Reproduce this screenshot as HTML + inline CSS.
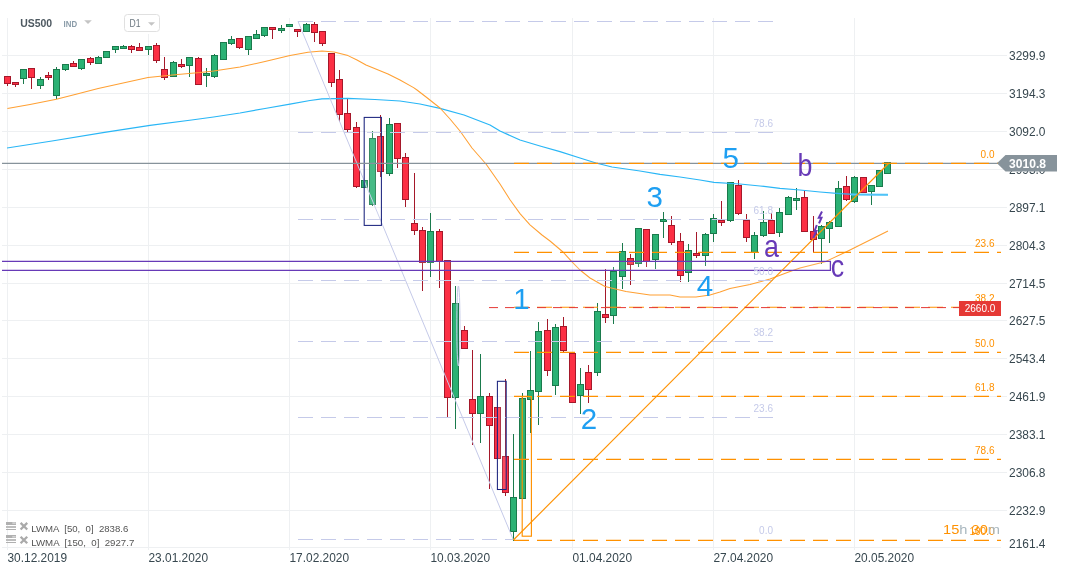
<!DOCTYPE html>
<html><head><meta charset="utf-8"><title>US500 D1</title>
<style>html,body{margin:0;padding:0;background:#fff}body{width:1069px;height:574px;overflow:hidden}svg{display:block}</style>
</head><body>
<svg width="1069" height="574" viewBox="0 0 1069 574" font-family="'Liberation Sans', Arial, sans-serif">
<rect width="1069" height="574" fill="#fff"/>
<g stroke="#eef0f2" stroke-width="1" shape-rendering="crispEdges">
<line x1="2" y1="55.5" x2="1007" y2="55.5"/>
<line x1="2" y1="93.5" x2="1007" y2="93.5"/>
<line x1="2" y1="131.5" x2="1007" y2="131.5"/>
<line x1="2" y1="169.5" x2="1007" y2="169.5"/>
<line x1="2" y1="207.5" x2="1007" y2="207.5"/>
<line x1="2" y1="245.5" x2="1007" y2="245.5"/>
<line x1="2" y1="283.5" x2="1007" y2="283.5"/>
<line x1="2" y1="320.5" x2="1007" y2="320.5"/>
<line x1="2" y1="358.5" x2="1007" y2="358.5"/>
<line x1="2" y1="396.5" x2="1007" y2="396.5"/>
<line x1="2" y1="434.5" x2="1007" y2="434.5"/>
<line x1="2" y1="472.5" x2="1007" y2="472.5"/>
<line x1="2" y1="510.5" x2="1007" y2="510.5"/>
<line x1="7.5" y1="18" x2="7.5" y2="550"/>
<line x1="148.5" y1="34" x2="148.5" y2="550"/>
<line x1="289.5" y1="18" x2="289.5" y2="550"/>
<line x1="430.5" y1="18" x2="430.5" y2="550"/>
<line x1="572.5" y1="18" x2="572.5" y2="550"/>
<line x1="713.5" y1="18" x2="713.5" y2="550"/>
<line x1="854.5" y1="18" x2="854.5" y2="550"/>
<line x1="2" y1="547.5" x2="1001" y2="547.5"/>
</g>
<g shape-rendering="crispEdges">
<line x1="7.5" y1="76" x2="7.5" y2="86" stroke="#a5182a" stroke-width="1"/>
<rect x="4.5" y="76.5" width="6" height="7" fill="#fc2f44" stroke="#a5182a" stroke-width="1"/>
<line x1="15.5" y1="82" x2="15.5" y2="87" stroke="#a5182a" stroke-width="1"/>
<rect x="12.5" y="82.5" width="6" height="2" fill="#fc2f44" stroke="#a5182a" stroke-width="1"/>
<line x1="23.5" y1="69" x2="23.5" y2="84" stroke="#1a7a4c" stroke-width="1"/>
<rect x="20.5" y="69.5" width="6" height="9" fill="#2bb174" stroke="#1a7a4c" stroke-width="1"/>
<line x1="31.5" y1="68" x2="31.5" y2="89" stroke="#a5182a" stroke-width="1"/>
<rect x="28.5" y="68.5" width="6" height="9" fill="#fc2f44" stroke="#a5182a" stroke-width="1"/>
<line x1="40.5" y1="77" x2="40.5" y2="89" stroke="#1a7a4c" stroke-width="1"/>
<rect x="37.5" y="79.5" width="6" height="6" fill="#2bb174" stroke="#1a7a4c" stroke-width="1"/>
<line x1="48.5" y1="72" x2="48.5" y2="80" stroke="#a5182a" stroke-width="1"/>
<rect x="45.5" y="75.5" width="6" height="2" fill="#fc2f44" stroke="#a5182a" stroke-width="1"/>
<line x1="56.5" y1="67" x2="56.5" y2="99" stroke="#1a7a4c" stroke-width="1"/>
<rect x="53.5" y="69.5" width="6" height="26" fill="#2bb174" stroke="#1a7a4c" stroke-width="1"/>
<line x1="65.5" y1="64" x2="65.5" y2="71" stroke="#1a7a4c" stroke-width="1"/>
<rect x="62.5" y="64.5" width="6" height="5" fill="#2bb174" stroke="#1a7a4c" stroke-width="1"/>
<line x1="73.5" y1="61" x2="73.5" y2="67" stroke="#a5182a" stroke-width="1"/>
<rect x="70.5" y="63.5" width="6" height="3" fill="#fc2f44" stroke="#a5182a" stroke-width="1"/>
<line x1="81.5" y1="59" x2="81.5" y2="70" stroke="#1a7a4c" stroke-width="1"/>
<rect x="78.5" y="59.5" width="6" height="9" fill="#2bb174" stroke="#1a7a4c" stroke-width="1"/>
<line x1="90.5" y1="57" x2="90.5" y2="65" stroke="#a5182a" stroke-width="1"/>
<rect x="87.5" y="58.5" width="6" height="4" fill="#fc2f44" stroke="#a5182a" stroke-width="1"/>
<line x1="98.5" y1="56" x2="98.5" y2="64" stroke="#1a7a4c" stroke-width="1"/>
<rect x="95.5" y="57.5" width="6" height="6" fill="#2bb174" stroke="#1a7a4c" stroke-width="1"/>
<line x1="106.5" y1="51" x2="106.5" y2="58" stroke="#1a7a4c" stroke-width="1"/>
<rect x="103.5" y="51.5" width="6" height="6" fill="#2bb174" stroke="#1a7a4c" stroke-width="1"/>
<line x1="115.5" y1="46" x2="115.5" y2="53" stroke="#1a7a4c" stroke-width="1"/>
<rect x="112.5" y="46.5" width="6" height="3" fill="#2bb174" stroke="#1a7a4c" stroke-width="1"/>
<line x1="123.5" y1="45" x2="123.5" y2="49" stroke="#1a7a4c" stroke-width="1"/>
<rect x="120.5" y="46.5" width="6" height="2" fill="#2bb174" stroke="#1a7a4c" stroke-width="1"/>
<line x1="131.5" y1="45" x2="131.5" y2="53" stroke="#a5182a" stroke-width="1"/>
<rect x="128.5" y="46.5" width="6" height="3" fill="#fc2f44" stroke="#a5182a" stroke-width="1"/>
<line x1="139.5" y1="43" x2="139.5" y2="51" stroke="#a5182a" stroke-width="1"/>
<rect x="136.5" y="47.5" width="6" height="3" fill="#fc2f44" stroke="#a5182a" stroke-width="1"/>
<line x1="148.5" y1="46" x2="148.5" y2="55" stroke="#1a7a4c" stroke-width="1"/>
<rect x="145.5" y="46.5" width="6" height="3" fill="#2bb174" stroke="#1a7a4c" stroke-width="1"/>
<line x1="156.5" y1="43" x2="156.5" y2="63" stroke="#a5182a" stroke-width="1"/>
<rect x="153.5" y="45.5" width="6" height="15" fill="#fc2f44" stroke="#a5182a" stroke-width="1"/>
<line x1="164.5" y1="57" x2="164.5" y2="80" stroke="#a5182a" stroke-width="1"/>
<rect x="161.5" y="69.5" width="6" height="8" fill="#fc2f44" stroke="#a5182a" stroke-width="1"/>
<line x1="173.5" y1="61" x2="173.5" y2="77" stroke="#1a7a4c" stroke-width="1"/>
<rect x="170.5" y="62.5" width="6" height="14" fill="#2bb174" stroke="#1a7a4c" stroke-width="1"/>
<line x1="181.5" y1="59" x2="181.5" y2="68" stroke="#a5182a" stroke-width="1"/>
<rect x="178.5" y="64.5" width="6" height="2" fill="#fc2f44" stroke="#a5182a" stroke-width="1"/>
<line x1="189.5" y1="57" x2="189.5" y2="77" stroke="#1a7a4c" stroke-width="1"/>
<rect x="186.5" y="57.5" width="6" height="8" fill="#2bb174" stroke="#1a7a4c" stroke-width="1"/>
<line x1="198.5" y1="57" x2="198.5" y2="85" stroke="#a5182a" stroke-width="1"/>
<rect x="195.5" y="58.5" width="6" height="26" fill="#fc2f44" stroke="#a5182a" stroke-width="1"/>
<line x1="206.5" y1="68" x2="206.5" y2="87" stroke="#1a7a4c" stroke-width="1"/>
<rect x="203.5" y="73.5" width="6" height="2" fill="#2bb174" stroke="#1a7a4c" stroke-width="1"/>
<line x1="214.5" y1="54" x2="214.5" y2="78" stroke="#1a7a4c" stroke-width="1"/>
<rect x="211.5" y="55.5" width="6" height="21" fill="#2bb174" stroke="#1a7a4c" stroke-width="1"/>
<line x1="223.5" y1="42" x2="223.5" y2="60" stroke="#1a7a4c" stroke-width="1"/>
<rect x="220.5" y="42.5" width="6" height="17" fill="#2bb174" stroke="#1a7a4c" stroke-width="1"/>
<line x1="231.5" y1="36" x2="231.5" y2="45" stroke="#1a7a4c" stroke-width="1"/>
<rect x="228.5" y="39.5" width="6" height="4" fill="#2bb174" stroke="#1a7a4c" stroke-width="1"/>
<line x1="239.5" y1="38" x2="239.5" y2="49" stroke="#a5182a" stroke-width="1"/>
<rect x="236.5" y="38.5" width="6" height="9" fill="#fc2f44" stroke="#a5182a" stroke-width="1"/>
<line x1="248.5" y1="36" x2="248.5" y2="55" stroke="#1a7a4c" stroke-width="1"/>
<rect x="245.5" y="36.5" width="6" height="13" fill="#2bb174" stroke="#1a7a4c" stroke-width="1"/>
<line x1="256.5" y1="30" x2="256.5" y2="39" stroke="#1a7a4c" stroke-width="1"/>
<rect x="253.5" y="34.5" width="6" height="4" fill="#2bb174" stroke="#1a7a4c" stroke-width="1"/>
<line x1="264.5" y1="27" x2="264.5" y2="37" stroke="#1a7a4c" stroke-width="1"/>
<rect x="261.5" y="27.5" width="6" height="8" fill="#2bb174" stroke="#1a7a4c" stroke-width="1"/>
<line x1="272.5" y1="27" x2="272.5" y2="39" stroke="#a5182a" stroke-width="1"/>
<rect x="269.5" y="27.5" width="6" height="2" fill="#fc2f44" stroke="#a5182a" stroke-width="1"/>
<line x1="281.5" y1="25" x2="281.5" y2="33" stroke="#1a7a4c" stroke-width="1"/>
<rect x="278.5" y="28.5" width="6" height="2" fill="#2bb174" stroke="#1a7a4c" stroke-width="1"/>
<line x1="289.5" y1="24" x2="289.5" y2="27" stroke="#1a7a4c" stroke-width="1"/>
<rect x="286.5" y="24.5" width="6" height="2" fill="#2bb174" stroke="#1a7a4c" stroke-width="1"/>
<line x1="297.5" y1="29" x2="297.5" y2="37" stroke="#a5182a" stroke-width="1"/>
<rect x="294.5" y="29.5" width="6" height="2" fill="#fc2f44" stroke="#a5182a" stroke-width="1"/>
<line x1="306.5" y1="23" x2="306.5" y2="32" stroke="#1a7a4c" stroke-width="1"/>
<rect x="303.5" y="24.5" width="6" height="7" fill="#2bb174" stroke="#1a7a4c" stroke-width="1"/>
<line x1="314.5" y1="22" x2="314.5" y2="42" stroke="#a5182a" stroke-width="1"/>
<rect x="311.5" y="24.5" width="6" height="8" fill="#fc2f44" stroke="#a5182a" stroke-width="1"/>
<line x1="322.5" y1="31" x2="322.5" y2="46" stroke="#a5182a" stroke-width="1"/>
<rect x="319.5" y="31.5" width="6" height="12" fill="#fc2f44" stroke="#a5182a" stroke-width="1"/>
<line x1="331.5" y1="53" x2="331.5" y2="87" stroke="#a5182a" stroke-width="1"/>
<rect x="328.5" y="53.5" width="6" height="29" fill="#fc2f44" stroke="#a5182a" stroke-width="1"/>
<line x1="339.5" y1="70" x2="339.5" y2="122" stroke="#a5182a" stroke-width="1"/>
<rect x="336.5" y="79.5" width="6" height="35" fill="#fc2f44" stroke="#a5182a" stroke-width="1"/>
<line x1="347.5" y1="98" x2="347.5" y2="132" stroke="#a5182a" stroke-width="1"/>
<rect x="344.5" y="113.5" width="6" height="16" fill="#fc2f44" stroke="#a5182a" stroke-width="1"/>
<line x1="356.5" y1="122" x2="356.5" y2="188" stroke="#a5182a" stroke-width="1"/>
<rect x="353.5" y="127.5" width="6" height="59" fill="#fc2f44" stroke="#a5182a" stroke-width="1"/>
<line x1="364.5" y1="180" x2="364.5" y2="188" stroke="#1a7a4c" stroke-width="1"/>
<rect x="361.5" y="180.5" width="6" height="7" fill="#2bb174" stroke="#1a7a4c" stroke-width="1"/>
<line x1="372.5" y1="131" x2="372.5" y2="206" stroke="#1a7a4c" stroke-width="1"/>
<rect x="369.5" y="138.5" width="6" height="66" fill="#2bb174" stroke="#1a7a4c" stroke-width="1"/>
<line x1="380.5" y1="115" x2="380.5" y2="177" stroke="#a5182a" stroke-width="1"/>
<rect x="377.5" y="136.5" width="6" height="35" fill="#fc2f44" stroke="#a5182a" stroke-width="1"/>
<line x1="389.5" y1="118" x2="389.5" y2="176" stroke="#1a7a4c" stroke-width="1"/>
<rect x="386.5" y="124.5" width="6" height="49" fill="#2bb174" stroke="#1a7a4c" stroke-width="1"/>
<line x1="397.5" y1="123" x2="397.5" y2="168" stroke="#a5182a" stroke-width="1"/>
<rect x="394.5" y="123.5" width="6" height="35" fill="#fc2f44" stroke="#a5182a" stroke-width="1"/>
<line x1="405.5" y1="153" x2="405.5" y2="207" stroke="#a5182a" stroke-width="1"/>
<rect x="402.5" y="157.5" width="6" height="42" fill="#fc2f44" stroke="#a5182a" stroke-width="1"/>
<line x1="414.5" y1="173" x2="414.5" y2="235" stroke="#a5182a" stroke-width="1"/>
<rect x="411.5" y="223.5" width="6" height="7" fill="#fc2f44" stroke="#a5182a" stroke-width="1"/>
<line x1="422.5" y1="227" x2="422.5" y2="291" stroke="#a5182a" stroke-width="1"/>
<rect x="419.5" y="230.5" width="6" height="32" fill="#fc2f44" stroke="#a5182a" stroke-width="1"/>
<line x1="430.5" y1="213" x2="430.5" y2="277" stroke="#1a7a4c" stroke-width="1"/>
<rect x="427.5" y="231.5" width="6" height="31" fill="#2bb174" stroke="#1a7a4c" stroke-width="1"/>
<line x1="439.5" y1="229" x2="439.5" y2="288" stroke="#a5182a" stroke-width="1"/>
<rect x="436.5" y="231.5" width="6" height="30" fill="#fc2f44" stroke="#a5182a" stroke-width="1"/>
<line x1="447.5" y1="260" x2="447.5" y2="418" stroke="#a5182a" stroke-width="1"/>
<rect x="444.5" y="260.5" width="6" height="137" fill="#fc2f44" stroke="#a5182a" stroke-width="1"/>
<line x1="455.5" y1="286" x2="455.5" y2="429" stroke="#1a7a4c" stroke-width="1"/>
<rect x="452.5" y="303.5" width="6" height="94" fill="#2bb174" stroke="#1a7a4c" stroke-width="1"/>
<line x1="464.5" y1="326" x2="464.5" y2="349" stroke="#a5182a" stroke-width="1"/>
<rect x="461.5" y="330.5" width="6" height="18" fill="#fc2f44" stroke="#a5182a" stroke-width="1"/>
<line x1="472.5" y1="350" x2="472.5" y2="445" stroke="#a5182a" stroke-width="1"/>
<rect x="469.5" y="399.5" width="6" height="14" fill="#fc2f44" stroke="#a5182a" stroke-width="1"/>
<line x1="480.5" y1="354" x2="480.5" y2="443" stroke="#1a7a4c" stroke-width="1"/>
<rect x="477.5" y="396.5" width="6" height="17" fill="#2bb174" stroke="#1a7a4c" stroke-width="1"/>
<line x1="489.5" y1="393" x2="489.5" y2="489" stroke="#a5182a" stroke-width="1"/>
<rect x="486.5" y="396.5" width="6" height="29" fill="#fc2f44" stroke="#a5182a" stroke-width="1"/>
<line x1="497.5" y1="407" x2="497.5" y2="459" stroke="#a5182a" stroke-width="1"/>
<rect x="494.5" y="407.5" width="6" height="51" fill="#fc2f44" stroke="#a5182a" stroke-width="1"/>
<line x1="505.5" y1="379" x2="505.5" y2="496" stroke="#a5182a" stroke-width="1"/>
<rect x="502.5" y="456.5" width="6" height="36" fill="#fc2f44" stroke="#a5182a" stroke-width="1"/>
<line x1="513.5" y1="434" x2="513.5" y2="541" stroke="#1a7a4c" stroke-width="1"/>
<rect x="510.5" y="497.5" width="6" height="34" fill="#2bb174" stroke="#1a7a4c" stroke-width="1"/>
<line x1="522.5" y1="393" x2="522.5" y2="499" stroke="#1a7a4c" stroke-width="1"/>
<rect x="519.5" y="398.5" width="6" height="100" fill="#2bb174" stroke="#1a7a4c" stroke-width="1"/>
<line x1="530.5" y1="351" x2="530.5" y2="433" stroke="#1a7a4c" stroke-width="1"/>
<rect x="527.5" y="390.5" width="6" height="9" fill="#2bb174" stroke="#1a7a4c" stroke-width="1"/>
<line x1="538.5" y1="322" x2="538.5" y2="425" stroke="#1a7a4c" stroke-width="1"/>
<rect x="535.5" y="331.5" width="6" height="60" fill="#2bb174" stroke="#1a7a4c" stroke-width="1"/>
<line x1="547.5" y1="319" x2="547.5" y2="376" stroke="#a5182a" stroke-width="1"/>
<rect x="544.5" y="330.5" width="6" height="40" fill="#fc2f44" stroke="#a5182a" stroke-width="1"/>
<line x1="555.5" y1="324" x2="555.5" y2="395" stroke="#1a7a4c" stroke-width="1"/>
<rect x="552.5" y="327.5" width="6" height="58" fill="#2bb174" stroke="#1a7a4c" stroke-width="1"/>
<line x1="563.5" y1="317" x2="563.5" y2="352" stroke="#a5182a" stroke-width="1"/>
<rect x="560.5" y="326.5" width="6" height="24" fill="#fc2f44" stroke="#a5182a" stroke-width="1"/>
<line x1="572.5" y1="353" x2="572.5" y2="403" stroke="#a5182a" stroke-width="1"/>
<rect x="569.5" y="353.5" width="6" height="49" fill="#fc2f44" stroke="#a5182a" stroke-width="1"/>
<line x1="580.5" y1="368" x2="580.5" y2="414" stroke="#1a7a4c" stroke-width="1"/>
<rect x="577.5" y="384.5" width="6" height="11" fill="#2bb174" stroke="#1a7a4c" stroke-width="1"/>
<line x1="588.5" y1="365" x2="588.5" y2="403" stroke="#a5182a" stroke-width="1"/>
<rect x="585.5" y="372.5" width="6" height="17" fill="#fc2f44" stroke="#a5182a" stroke-width="1"/>
<line x1="597.5" y1="303" x2="597.5" y2="376" stroke="#1a7a4c" stroke-width="1"/>
<rect x="594.5" y="311.5" width="6" height="61" fill="#2bb174" stroke="#1a7a4c" stroke-width="1"/>
<line x1="605.5" y1="269" x2="605.5" y2="323" stroke="#a5182a" stroke-width="1"/>
<rect x="602.5" y="314.5" width="6" height="3" fill="#fc2f44" stroke="#a5182a" stroke-width="1"/>
<line x1="613.5" y1="267" x2="613.5" y2="324" stroke="#1a7a4c" stroke-width="1"/>
<rect x="610.5" y="271.5" width="6" height="44" fill="#2bb174" stroke="#1a7a4c" stroke-width="1"/>
<line x1="622.5" y1="243" x2="622.5" y2="289" stroke="#1a7a4c" stroke-width="1"/>
<rect x="619.5" y="251.5" width="6" height="25" fill="#2bb174" stroke="#1a7a4c" stroke-width="1"/>
<line x1="630.5" y1="254" x2="630.5" y2="285" stroke="#a5182a" stroke-width="1"/>
<rect x="627.5" y="258.5" width="6" height="6" fill="#fc2f44" stroke="#a5182a" stroke-width="1"/>
<line x1="638.5" y1="228" x2="638.5" y2="267" stroke="#1a7a4c" stroke-width="1"/>
<rect x="635.5" y="228.5" width="6" height="35" fill="#2bb174" stroke="#1a7a4c" stroke-width="1"/>
<line x1="646.5" y1="229" x2="646.5" y2="267" stroke="#a5182a" stroke-width="1"/>
<rect x="643.5" y="229.5" width="6" height="32" fill="#fc2f44" stroke="#a5182a" stroke-width="1"/>
<line x1="655.5" y1="234" x2="655.5" y2="269" stroke="#1a7a4c" stroke-width="1"/>
<rect x="652.5" y="234.5" width="6" height="25" fill="#2bb174" stroke="#1a7a4c" stroke-width="1"/>
<line x1="663.5" y1="212" x2="663.5" y2="238" stroke="#1a7a4c" stroke-width="1"/>
<rect x="660.5" y="219.5" width="6" height="2" fill="#2bb174" stroke="#1a7a4c" stroke-width="1"/>
<line x1="671.5" y1="216" x2="671.5" y2="245" stroke="#a5182a" stroke-width="1"/>
<rect x="668.5" y="225.5" width="6" height="17" fill="#fc2f44" stroke="#a5182a" stroke-width="1"/>
<line x1="680.5" y1="233" x2="680.5" y2="282" stroke="#a5182a" stroke-width="1"/>
<rect x="677.5" y="241.5" width="6" height="34" fill="#fc2f44" stroke="#a5182a" stroke-width="1"/>
<line x1="688.5" y1="244" x2="688.5" y2="282" stroke="#1a7a4c" stroke-width="1"/>
<rect x="685.5" y="250.5" width="6" height="22" fill="#2bb174" stroke="#1a7a4c" stroke-width="1"/>
<line x1="696.5" y1="232" x2="696.5" y2="258" stroke="#a5182a" stroke-width="1"/>
<rect x="693.5" y="253.5" width="6" height="2" fill="#fc2f44" stroke="#a5182a" stroke-width="1"/>
<line x1="705.5" y1="233" x2="705.5" y2="266" stroke="#1a7a4c" stroke-width="1"/>
<rect x="702.5" y="234.5" width="6" height="21" fill="#2bb174" stroke="#1a7a4c" stroke-width="1"/>
<line x1="713.5" y1="214" x2="713.5" y2="242" stroke="#1a7a4c" stroke-width="1"/>
<rect x="710.5" y="218.5" width="6" height="15" fill="#2bb174" stroke="#1a7a4c" stroke-width="1"/>
<line x1="721.5" y1="201" x2="721.5" y2="226" stroke="#a5182a" stroke-width="1"/>
<rect x="718.5" y="220.5" width="6" height="2" fill="#fc2f44" stroke="#a5182a" stroke-width="1"/>
<line x1="730.5" y1="182" x2="730.5" y2="222" stroke="#1a7a4c" stroke-width="1"/>
<rect x="727.5" y="182.5" width="6" height="38" fill="#2bb174" stroke="#1a7a4c" stroke-width="1"/>
<line x1="738.5" y1="180" x2="738.5" y2="215" stroke="#a5182a" stroke-width="1"/>
<rect x="735.5" y="185.5" width="6" height="28" fill="#fc2f44" stroke="#a5182a" stroke-width="1"/>
<line x1="746.5" y1="214" x2="746.5" y2="242" stroke="#a5182a" stroke-width="1"/>
<rect x="743.5" y="220.5" width="6" height="17" fill="#fc2f44" stroke="#a5182a" stroke-width="1"/>
<line x1="754.5" y1="232" x2="754.5" y2="259" stroke="#1a7a4c" stroke-width="1"/>
<rect x="751.5" y="235.5" width="6" height="17" fill="#2bb174" stroke="#1a7a4c" stroke-width="1"/>
<line x1="763.5" y1="211" x2="763.5" y2="237" stroke="#1a7a4c" stroke-width="1"/>
<rect x="760.5" y="222.5" width="6" height="13" fill="#2bb174" stroke="#1a7a4c" stroke-width="1"/>
<line x1="771.5" y1="213" x2="771.5" y2="234" stroke="#a5182a" stroke-width="1"/>
<rect x="768.5" y="220.5" width="6" height="13" fill="#fc2f44" stroke="#a5182a" stroke-width="1"/>
<line x1="779.5" y1="208" x2="779.5" y2="237" stroke="#1a7a4c" stroke-width="1"/>
<rect x="776.5" y="212.5" width="6" height="20" fill="#2bb174" stroke="#1a7a4c" stroke-width="1"/>
<line x1="788.5" y1="196" x2="788.5" y2="215" stroke="#1a7a4c" stroke-width="1"/>
<rect x="785.5" y="197.5" width="6" height="17" fill="#2bb174" stroke="#1a7a4c" stroke-width="1"/>
<line x1="796.5" y1="188" x2="796.5" y2="210" stroke="#1a7a4c" stroke-width="1"/>
<rect x="793.5" y="198.5" width="6" height="2" fill="#2bb174" stroke="#1a7a4c" stroke-width="1"/>
<line x1="804.5" y1="191" x2="804.5" y2="232" stroke="#a5182a" stroke-width="1"/>
<rect x="801.5" y="197.5" width="6" height="34" fill="#fc2f44" stroke="#a5182a" stroke-width="1"/>
<line x1="813.5" y1="216" x2="813.5" y2="253" stroke="#a5182a" stroke-width="1"/>
<rect x="810.5" y="231.5" width="6" height="8" fill="#fc2f44" stroke="#a5182a" stroke-width="1"/>
<line x1="821.5" y1="225" x2="821.5" y2="264" stroke="#1a7a4c" stroke-width="1"/>
<rect x="818.5" y="226.5" width="6" height="12" fill="#2bb174" stroke="#1a7a4c" stroke-width="1"/>
<line x1="829.5" y1="221" x2="829.5" y2="243" stroke="#1a7a4c" stroke-width="1"/>
<rect x="826.5" y="222.5" width="6" height="6" fill="#2bb174" stroke="#1a7a4c" stroke-width="1"/>
<line x1="838.5" y1="181" x2="838.5" y2="227" stroke="#1a7a4c" stroke-width="1"/>
<rect x="835.5" y="188.5" width="6" height="38" fill="#2bb174" stroke="#1a7a4c" stroke-width="1"/>
<line x1="846.5" y1="176" x2="846.5" y2="201" stroke="#a5182a" stroke-width="1"/>
<rect x="843.5" y="186.5" width="6" height="13" fill="#fc2f44" stroke="#a5182a" stroke-width="1"/>
<line x1="854.5" y1="176" x2="854.5" y2="203" stroke="#1a7a4c" stroke-width="1"/>
<rect x="851.5" y="177.5" width="6" height="24" fill="#2bb174" stroke="#1a7a4c" stroke-width="1"/>
<line x1="863.5" y1="177" x2="863.5" y2="193" stroke="#a5182a" stroke-width="1"/>
<rect x="860.5" y="177.5" width="6" height="15" fill="#fc2f44" stroke="#a5182a" stroke-width="1"/>
<line x1="871.5" y1="185" x2="871.5" y2="205" stroke="#1a7a4c" stroke-width="1"/>
<rect x="868.5" y="185.5" width="6" height="6" fill="#2bb174" stroke="#1a7a4c" stroke-width="1"/>
<line x1="879.5" y1="170" x2="879.5" y2="187" stroke="#1a7a4c" stroke-width="1"/>
<rect x="876.5" y="170.5" width="6" height="16" fill="#2bb174" stroke="#1a7a4c" stroke-width="1"/>
<line x1="887.5" y1="162" x2="887.5" y2="174" stroke="#1a7a4c" stroke-width="1"/>
<rect x="884.5" y="162.5" width="6" height="11" fill="#2bb174" stroke="#1a7a4c" stroke-width="1"/>
</g>
<polyline points="7,148 52,141 104.5,132.4 150,125.4 191.6,120 213.6,117 240,113 265,108.5 290,104.2 310,100.5 322,98.8 348,98.4 375,99.5 400,101 420,104 440,108.4 464,115 490,125 500,131 520,140 540,146 560,151.6 580,158 596,163 612,167 640,171 660,174.4 680,177 700,180 714,182.4 740,184 760,186 780,188.4 800,190 820,192 840,193.6 853.6,194.4 888,194.6" fill="none" stroke="#29b6f6" stroke-width="1.25" stroke-linejoin="round"/>
<line x1="851" y1="194.5" x2="888" y2="194.7" stroke="#4fc3f7" stroke-width="2"/>
<polyline points="7.4,108.6 30,104.4 56.4,99.3 77,94 98.2,88.6 148,77.6 175,74.8 200,72.6 213.6,71 240,67 265,61.5 290,55.6 308,52.3 322,51 334,52 348,55.6 357,60 366,65 377,69.5 388,74 400,80 413.6,87.6 417,90 428,98.5 440,108 450,119 460,131 472,148 486,164 500,184 510,199.8 520,213.6 530,224.8 542,235 550,241 563,252 572,261.8 580,270 590,278 605,286.5 626,291.5 650,295 670,295 680,297 696,297 710,295 720,292 730,288.6 750,284.6 770,279 790,271.5 800,268 826,261.4 848,251 888,231" fill="none" stroke="#ffa033" stroke-width="1.05" stroke-linejoin="round"/>
<g stroke="#c5cae9" stroke-width="1" fill="none">
<line x1="298" y1="21.4" x2="513.4" y2="540"/>
<line x1="298" y1="21.5" x2="773.4" y2="21.5" stroke-dasharray="15 8" stroke-dashoffset="0"/>
<line x1="298" y1="132.5" x2="773.4" y2="132.5" stroke-dasharray="15 8" stroke-dashoffset="0"/>
<line x1="298" y1="219.5" x2="773.4" y2="219.5" stroke-dasharray="15 8" stroke-dashoffset="0"/>
<line x1="298" y1="280.5" x2="773.4" y2="280.5" stroke-dasharray="15 8" stroke-dashoffset="0"/>
<line x1="298" y1="341.5" x2="773.4" y2="341.5" stroke-dasharray="15 8" stroke-dashoffset="0"/>
<line x1="298" y1="417.5" x2="773.4" y2="417.5" stroke-dasharray="15 8" stroke-dashoffset="0"/>
<line x1="298" y1="539.5" x2="513.4" y2="539.5" stroke-dasharray="15 8" stroke-dashoffset="0"/>
<ellipse cx="458.4" cy="326" rx="1.6" ry="40"/>
</g>
<g stroke="#1a237e" stroke-width="1.05" fill="none">
<rect x="364.2" y="117.4" width="17.2" height="108" fill="rgba(255,255,255,0.13)"/>
<rect x="497.4" y="381.3" width="8.8" height="108.2" fill="rgba(255,255,255,0.13)"/>
</g>
<path d="M2,261.4 H830.4 V270.4 H2" fill="rgba(255,255,255,0.12)" stroke="#673ab7" stroke-width="1.3"/>
<line x1="2" y1="163.4" x2="1000" y2="163.4" stroke="#87939b" stroke-width="1.3"/>
<g stroke="#ff9100" stroke-width="1.15" fill="none">
<line x1="514" y1="163.4" x2="1001" y2="163.4" stroke-dasharray="15 8" stroke-dashoffset="0"/>
<line x1="514" y1="252.4" x2="1001" y2="252.4" stroke-dasharray="15 8" stroke-dashoffset="0"/>
<line x1="514" y1="307.2" x2="1001" y2="307.2" stroke-dasharray="15 8" stroke-dashoffset="0"/>
<line x1="514" y1="352.4" x2="1001" y2="352.4" stroke-dasharray="15 8" stroke-dashoffset="0"/>
<line x1="514" y1="396.4" x2="1001" y2="396.4" stroke-dasharray="15 8" stroke-dashoffset="0"/>
<line x1="514" y1="459.4" x2="1001" y2="459.4" stroke-dasharray="15 8" stroke-dashoffset="0"/>
<line x1="514" y1="540.4" x2="1001" y2="540.4" stroke-dasharray="15 8" stroke-dashoffset="0"/>
<rect x="522.2" y="396.6" width="9.2" height="139.6"/>
<line x1="513.4" y1="540" x2="889" y2="163"/>
</g>
<line x1="489" y1="307.6" x2="960" y2="307.6" stroke="#e53935" stroke-width="1" stroke-dasharray="9 7"/>
<g stroke="#673ab7" stroke-width="2" fill="none" stroke-linejoin="miter"><polyline points="822,211.5 818.8,217.7 821.5,217.7 819,223.3"/><polyline points="816.8,225 814.6,231 816.4,231 813.3,238"/></g>
<g font-size="10" fill="#ff9100" text-anchor="end">
<text x="994.5" y="158.0">0.0</text>
<text x="994.5" y="247.0">23.6</text>
<text x="994.5" y="302.2">38.2</text>
<text x="994.5" y="347.0">50.0</text>
<text x="994.5" y="391.0">61.8</text>
<text x="994.5" y="454.0">78.6</text>
<text x="994.5" y="535.0">100.0</text>
</g>
<g font-size="10" fill="#c5cae9" text-anchor="end">
<text x="773" y="127.0">78.6</text>
<text x="773" y="213.9">61.8</text>
<text x="773" y="275.1">50.0</text>
<text x="773" y="336.0">38.2</text>
<text x="773" y="412.0">23.6</text>
<text x="773" y="534.3">0.0</text>
</g>
<rect x="959" y="301" width="42" height="15" fill="#e53935"/>
<text x="980" y="312" font-size="10" fill="#fff" text-anchor="middle">2660.0</text>
<g font-size="29.5" fill="#1e9ff2" text-anchor="middle">
<text x="521.5" y="309.4">1</text>
<text x="589" y="429">2</text>
<text x="654.8" y="207">3</text>
<text x="705" y="296">4</text>
<text x="730.8" y="168">5</text>
</g>
<g font-size="30.5" fill="#673ab7" text-anchor="middle">
<text transform="translate(771.5,257) scale(0.88,1)">a</text>
<text transform="translate(805,175.6) scale(0.88,1)">b</text>
<text transform="translate(837.5,277) scale(0.88,1)">c</text>
</g>
<g font-size="12" fill="#37474f">
<text x="1009" y="60.4" textLength="36.5" lengthAdjust="spacingAndGlyphs">3299.9</text>
<text x="1009" y="98.2" textLength="36.5" lengthAdjust="spacingAndGlyphs">3194.3</text>
<text x="1009" y="136.1" textLength="36.5" lengthAdjust="spacingAndGlyphs">3092.0</text>
<text x="1009" y="174.0" textLength="36.5" lengthAdjust="spacingAndGlyphs">2993.0</text>
<text x="1009" y="211.8" textLength="36.5" lengthAdjust="spacingAndGlyphs">2897.1</text>
<text x="1009" y="249.7" textLength="36.5" lengthAdjust="spacingAndGlyphs">2804.3</text>
<text x="1009" y="287.5" textLength="36.5" lengthAdjust="spacingAndGlyphs">2714.5</text>
<text x="1009" y="325.3" textLength="36.5" lengthAdjust="spacingAndGlyphs">2627.5</text>
<text x="1009" y="363.2" textLength="36.5" lengthAdjust="spacingAndGlyphs">2543.4</text>
<text x="1009" y="401.0" textLength="36.5" lengthAdjust="spacingAndGlyphs">2461.9</text>
<text x="1009" y="438.9" textLength="36.5" lengthAdjust="spacingAndGlyphs">2383.1</text>
<text x="1009" y="476.8" textLength="36.5" lengthAdjust="spacingAndGlyphs">2306.8</text>
<text x="1009" y="514.6" textLength="36.5" lengthAdjust="spacingAndGlyphs">2232.9</text>
<text x="1009" y="547.6" textLength="36.5" lengthAdjust="spacingAndGlyphs">2161.4</text>
</g>
<polygon points="997,163.3 1005.5,155 1057,155 1057,171.6 1005.5,171.6" fill="#87939b"/>
<text x="1009" y="167.7" font-size="12" font-weight="bold" fill="#fff" textLength="37" lengthAdjust="spacingAndGlyphs">3010.8</text>
<g font-size="12" fill="#37474f">
<text x="7.5" y="562" textLength="59.5" lengthAdjust="spacingAndGlyphs">30.12.2019</text>
<text x="148.5" y="562" textLength="59.5" lengthAdjust="spacingAndGlyphs">23.01.2020</text>
<text x="289.5" y="562" textLength="59.5" lengthAdjust="spacingAndGlyphs">17.02.2020</text>
<text x="430.5" y="562" textLength="59.5" lengthAdjust="spacingAndGlyphs">10.03.2020</text>
<text x="572.5" y="562" textLength="59.5" lengthAdjust="spacingAndGlyphs">01.04.2020</text>
<text x="713.5" y="562" textLength="59.5" lengthAdjust="spacingAndGlyphs">27.04.2020</text>
<text x="854.5" y="562" textLength="59.5" lengthAdjust="spacingAndGlyphs">20.05.2020</text>
</g>
<text x="943" y="533.6" font-size="13.5" fill="#ff9100" textLength="57" lengthAdjust="spacingAndGlyphs">15<tspan fill="#a9b7bf">h </tspan>30<tspan fill="#a9b7bf">m</tspan></text>
<text x="20.2" y="26.9" font-size="11" font-weight="bold" fill="#4d5860" textLength="32" lengthAdjust="spacingAndGlyphs">US500</text>
<text x="63.6" y="26.9" font-size="8.3" font-weight="bold" fill="#8a9ba8" textLength="13.5" lengthAdjust="spacingAndGlyphs">IND</text>
<polygon points="84.2,20.2 91.8,20.2 88,23.9" fill="#c4c4c4"/>
<rect x="124.5" y="14.5" width="35" height="17" rx="3" fill="#fff" stroke="#e0e0e0"/>
<text x="129.6" y="26.9" font-size="10" fill="#6b7780" textLength="11" lengthAdjust="spacingAndGlyphs">D1</text>
<polygon points="148,22.3 155,22.3 151.5,25.7" fill="#c4c4c4"/>
<g fill="#b0b0b0" shape-rendering="crispEdges"><rect x="6" y="522" width="10" height="3"/><rect x="6" y="526" width="10" height="2" fill="#bdbdbd"/><rect x="6" y="529" width="10" height="1"/></g>
<rect x="12.3" y="522.5" width="3.4" height="1.1" fill="#e4e4e4"/>
<path d="M20.6,522.9 L27.2,529.5 M27.2,522.9 L20.6,529.5" stroke="#aaaaaa" stroke-width="2.3" fill="none"/>
<text x="31.3" y="531.7" font-size="9.7" fill="#555" textLength="97" lengthAdjust="spacingAndGlyphs" style="white-space:pre">LWMA  [50,  0]  2838.6</text>
<g fill="#b0b0b0" shape-rendering="crispEdges"><rect x="6" y="535" width="10" height="3"/><rect x="6" y="539" width="10" height="2" fill="#bdbdbd"/><rect x="6" y="542" width="10" height="1"/></g>
<rect x="12.3" y="536.3" width="3.4" height="1.1" fill="#e4e4e4"/>
<path d="M20.6,536.7 L27.2,543.3 M27.2,536.7 L20.6,543.3" stroke="#aaaaaa" stroke-width="2.3" fill="none"/>
<text x="31.3" y="545.5" font-size="9.7" fill="#555" textLength="103" lengthAdjust="spacingAndGlyphs" style="white-space:pre">LWMA  [150,  0]  2927.7</text>
</svg>
</body></html>
